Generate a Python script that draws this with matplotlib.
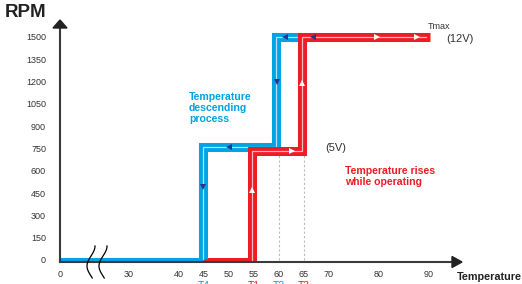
import numpy as np
import matplotlib
matplotlib.use("Agg")
import matplotlib.pyplot as plt
from matplotlib.patches import Polygon

plt.rcParams['font.family'] = ['Liberation Sans', 'DejaVu Sans']

BLUE = '#00a3e4'
RED = '#ee1c25'
NAVY = '#2e3192'
AXC = '#3a3a3a'

# tick values
xticks = [0, 30, 40, 45, 50, 55, 60, 65, 70, 80, 90]
yticks = [0, 150, 300, 450, 600, 750, 900, 1050, 1200, 1350, 1500]

# descending (blue) path
blue_x = [44.8, 44.8, 59.5, 59.5, 65.0]
blue_y = [10, 763, 763, 1503, 1503]
blue_base_x = [0, 44.8]
blue_base_y = [10, 10]

# rising (red) path
red_x = [54.6, 54.6, 64.7, 64.7, 90.2]
red_y = [-5, 730, 730, 1503, 1503]
red_base_x = [0, 54.6]
red_base_y = [2, 2]

# direction arrows
navy_x = [44.8, 50.0, 59.6, 61.2, 66.8]
navy_y = [490, 763, 1197, 1503, 1503]
navy_m = ['v', '<', 'v', '<', '<']
white_x = [54.6, 62.6, 64.7, 79.6, 87.6]
white_y = [470, 730, 1190, 1503, 1503]
white_m = ['^', '>', '^', '>', '>']

# T labels under axis
t_pos = [45, 55, 60, 65]
t_lab = ['T4', 'T1', 'T2', 'T3']
t_col = [BLUE, RED, BLUE, RED]


# broken x axis: 0..30 squeezed
def fwd(t):
    t = np.asarray(t, dtype=float)
    return np.where(t >= 30, t, 16.2 + t * 0.46)


def inv(v):
    v = np.asarray(v, dtype=float)
    return np.where(v >= 30, v, (v - 16.2) / 0.46)


fig = plt.figure(figsize=(5.22, 2.84), dpi=100)
ax = fig.add_axes([60 / 522, 22 / 284, 402 / 522, 242 / 284])
ax.set_xscale('function', functions=(fwd, inv))
ax.set_xlim(0, 96.6)
ax.set_ylim(-13.5, 1614)
for s in ax.spines.values():
    s.set_visible(False)

ax.set_xticks(xticks)
ax.set_xticklabels([str(v) for v in xticks])
ax.set_yticks(yticks)
ax.set_yticklabels([str(v) for v in yticks])
ax.tick_params(axis='both', length=0, labelsize=6.5, labelcolor='#333333')
ax.tick_params(axis='y', pad=10)
ax.tick_params(axis='x', pad=5.5)
ax.xaxis.set_minor_locator(matplotlib.ticker.NullLocator())

# axis lines with arrow heads
ax.plot([0, 0], [0, 1 - 8 / 242], color=AXC, lw=1.5, transform=ax.transAxes, clip_on=False, zorder=10)
ax.plot([0, 392 / 402], [0, 0], color=AXC, lw=1.5, transform=ax.transAxes, clip_on=False, zorder=10)
ax.add_patch(Polygon([[0, 1], [-7 / 402, 1 - 8 / 242], [7 / 402, 1 - 8 / 242]],
                     closed=True, color='#222222', transform=ax.transAxes, clip_on=False, zorder=10))
ax.add_patch(Polygon([[1, 0], [392 / 402, 5.5 / 242], [392 / 402, -5.5 / 242]],
                     closed=True, color='#222222', transform=ax.transAxes, clip_on=False, zorder=10))

# dashed guides at 60 and 65
for xv in [60, 65]:
    ax.plot([xv, xv], [0, 715], color='#bbbbbb', lw=0.8, ls=(0, (2, 2)), zorder=1)

# baselines
ax.plot(red_base_x, red_base_y, color=RED, lw=3.6, solid_capstyle='butt', zorder=2)
ax.plot(blue_base_x, blue_base_y, color=BLUE, lw=2.2, solid_capstyle='butt', zorder=3)

# thick paths
ax.plot(blue_x, blue_y, color=BLUE, lw=6.5, solid_joinstyle='miter', solid_capstyle='butt', zorder=4)
ax.plot(blue_x, blue_y, color='white', lw=0.9, alpha=0.7, solid_joinstyle='miter', zorder=5)
ax.plot(red_x, red_y, color=RED, lw=6.5, solid_joinstyle='miter', solid_capstyle='butt', zorder=6)
ax.plot(red_x[:-1] + [89.5], red_y, color='white', lw=0.9, alpha=0.7, solid_joinstyle='miter', zorder=7)

for x, y, m in zip(navy_x, navy_y, navy_m):
    ax.plot(x, y, marker=m, color=NAVY, ms=4.2, mew=0, zorder=8)
for x, y, m in zip(white_x, white_y, white_m):
    ax.plot(x, y, marker=m, color='white', ms=4.2, mew=0, zorder=8)

# axis break marks
s = np.linspace(0, 1, 60)
for cx in [91, 103]:
    xs = (cx - 60 + 4 * np.cos(1.6 * np.pi * s)) / 402
    ys = (16 - 32 * s) / 242
    ax.plot(xs, ys, color='black', lw=0.9, transform=ax.transAxes, clip_on=False, zorder=11)

# labels under axis (clipped by figure edge)
for xv, lab, c in zip(t_pos, t_lab, t_col):
    ax.text(xv, -19 / 242, lab, color=c, fontsize=7.5, ha='center', va='top',
            transform=ax.get_xaxis_transform(), clip_on=False)

ax.text(42.0, 1130, 'Temperature\ndescending\nprocess', color=BLUE, fontsize=7.6,
        fontweight='bold', ha='left', va='top', linespacing=1.15)
ax.text(73.2, 632, 'Temperature rises\nwhile operating', color=RED, fontsize=7.6,
        fontweight='bold', ha='left', va='top', linespacing=1.15)
ax.text(69.2, 753, '(5V)', color='#333333', fontsize=8, ha='left', va='center')
ax.text(89.8, 1567, 'Tmax', color='#333333', fontsize=6.5, ha='left', va='center')
ax.text(93.4, 1486, '(12V)', color='#333333', fontsize=8, ha='left', va='center')

fig.text(5 / 522, 1 - 12.5 / 284, 'RPM', fontsize=13.5, fontweight='bold', color='#222222',
         ha='left', va='center')
fig.text(457 / 522, 1 - 277 / 284, 'Temperature', fontsize=7.8, fontweight='bold', color='#222222',
         ha='left', va='center')

fig.savefig('out.png', dpi=100)
